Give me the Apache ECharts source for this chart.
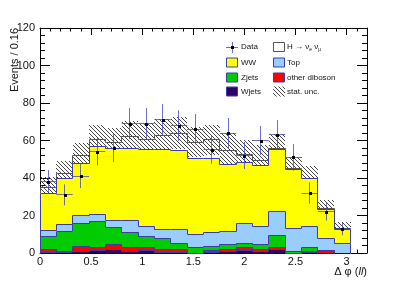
<!DOCTYPE html>
<html><head><meta charset="utf-8">
<script src="https://cdn.jsdelivr.net/npm/echarts@6/dist/echarts.min.js"></script>
<style>html,body{margin:0;padding:0;background:#fff}#c{width:407px;height:282px}</style>
</head><body><div id="c"></div>
<script>
// bin edges (width 0.16)
const binEdges = [0,0.16,0.32,0.48,0.64,0.8,0.96,1.12,1.28,1.44,1.6,1.76,1.92,2.08,2.24,2.4,2.56,2.72,2.88,3.04,3.2];
// background components (per bin, not cumulative)
const wjets   = [0.4,0.5,1.0,1.2,1.8,0.9,1.4,0.5,0.5,0,0.5,0.7,1.4,0.9,1.8,0,0.3,0,0,0];
const otherVV = [1.4,0.5,2.6,1.6,2.6,1.8,1.3,1.6,1.6,0,0.9,1.1,1.8,0.9,1.4,0,0.6,1.4,0,0];
const zjets   = [6.9,10.3,12.4,14.2,9.3,8.0,6.3,5.4,3.2,2.7,2.2,2.6,2.1,2.6,6.4,1.0,2.1,0,0,0];
const topBkg  = [3.1,4.0,4.0,3.8,3.5,6.5,5.2,5.3,7.5,7.1,7.1,7.2,10.2,9.5,12.3,12.3,10.9,6.6,5.3,0];
const ww      = [20.2,24.2,28.0,36.2,38.3,38.3,41.0,42.2,42.1,40.5,39.8,35.5,33.0,32.9,33.1,31.3,25.6,15.2,7.5,0];
const higgs   = [2.7,3.0,4.0,3.5,3.5,6.4,5.6,7.9,9.1,8.9,9.9,7.7,3.9,2.4,1.0,0.7,0.2,0.4,0.2,0];
const statUnc = [5.7,6.7,6.7,7.9,7.7,8.5,8.5,8.5,8.5,8.0,8.0,9.2,8.0,8.6,7.6,5.7,6.6,4.8,3.4,0];
// data
const dataVals = [38,31,41,54,56,69,69,71,68,66,55,64,52,60,63,51,32,22,13];
const dataErrs = [6.2,5.6,6.4,7.3,7.5,8.3,8.3,8.4,8.2,8.1,7.4,8.0,7.2,7.7,7.9,7.1,5.7,4.7,3.6];
// axis ticks
const xTicks = {min:0, max:3.2, interval:0.5};
const yTicks = {min:0, max:120, interval:20};

const FONT = "'Liberation Sans', Arial, Helvetica, sans-serif";
const C = {ww:'#ffff00', top:'#99ccff', zj:'#00cc00', vv:'#ff0000', wj:'#2e0066', line:'#3c3ca8', hline:'#555555', err:'rgba(60,60,200,0.75)'};

// cumulative stacks (bottom -> top)
const comps = [wjets, otherVV, zjets, topBkg, ww, higgs];
const cums = [];
let run = new Array(wjets.length).fill(0);
comps.forEach(c => { run = run.map((v,i)=>v + c[i]); cums.push(run.slice()); });
const [cWj, cVV, cZj, cTop, cWW, cTot] = cums;

// hatch pattern
function makeHatch(size, color) {
  const cv = document.createElement('canvas');
  cv.width = size; cv.height = size;
  const g = cv.getContext('2d');
  g.strokeStyle = color; g.lineWidth = 1;
  g.beginPath();
  g.moveTo(-1,-1); g.lineTo(size+1,size+1);
  g.moveTo(-1,size-1); g.lineTo(1,size+1);
  g.moveTo(size-1,-1); g.lineTo(size+1,1);
  g.stroke();
  return {image: cv, repeat:'repeat'};
}
const hatch = makeHatch(4, '#444444');

const r = v => Math.round(v);
const rh = v => Math.round(v - 0.5) + 0.5;

function stepSeries(name, cum, fill, stroke) {
  return {
    type:'custom', name, xAxisIndex:0, yAxisIndex:0, data:[[0,0]], silent:true, animation:false,
    renderItem(params, api) {
      const n = cum.length;
      const raw = [[binEdges[0],0]];
      for (let i=0;i<n;i++){ raw.push([binEdges[i],cum[i]]); raw.push([binEdges[i+1],cum[i]]); }
      raw.push([binEdges[n],0]);
      const px = raw.map(p => api.coord(p));
      const children = [];
      if (fill) children.push({type:'polygon', shape:{points:px.map(p=>[r(p[0]),r(p[1])])}, style:{fill, stroke:null}});
      let line = raw.slice();
      while (line.length>2 && line[line.length-1][1]===0 && line[line.length-2][1]===0) line.pop();
      const lp = line.map(p => api.coord(p)).map(p=>[rh(p[0]),rh(p[1])]);
      children.push({type:'polyline', shape:{points:lp}, style:{fill:null, stroke, lineWidth:1}});
      return {type:'group', children};
    }
  };
}

function hatchSeries() {
  return {
    type:'custom', name:'stat. unc.', xAxisIndex:0, yAxisIndex:0, data:[[0,0]], silent:true, animation:false,
    renderItem(params, api) {
      const n = cTot.length;
      const up = [], lo = [];
      for (let i=0;i<n;i++){
        if (cTot[i] <= 0) continue;
        up.push([binEdges[i], cTot[i]+statUnc[i]]); up.push([binEdges[i+1], cTot[i]+statUnc[i]]);
      }
      for (let i=n-1;i>=0;i--){
        if (cTot[i] <= 0) continue;
        lo.push([binEdges[i+1], Math.max(0,cTot[i]-statUnc[i])]); lo.push([binEdges[i], Math.max(0,cTot[i]-statUnc[i])]);
      }
      const pts = up.concat(lo).map(p=>api.coord(p)).map(p=>[r(p[0]),r(p[1])]);
      return {type:'polygon', shape:{points:pts}, style:{fill:hatch, stroke:null}};
    }
  };
}

const dataPts = dataVals.map((v,i)=>[(binEdges[i]+binEdges[i+1])/2, v, dataErrs[i], binEdges[i], binEdges[i+1]]);
const dataSeries = {
  type:'custom', name:'Data', xAxisIndex:0, yAxisIndex:0, data:dataPts, silent:true, animation:false, z:10,
  renderItem(params, api) {
    const x = api.value(0), y = api.value(1), e = api.value(2);
    const c = api.coord([x,y]);
    const t = api.coord([x,y+e]), b = api.coord([x,y-e]);
    const L = api.coord([api.value(3),y]), R = api.coord([api.value(4),y]);
    const cx = rh(c[0]), cy = rh(c[1]);
    return {type:'group', children:[
      {type:'line', shape:{x1:cx,y1:t[1],x2:cx,y2:b[1]}, style:{stroke:C.err, lineWidth:1}},
      {type:'line', shape:{x1:L[0],y1:cy,x2:R[0],y2:cy}, style:{stroke:C.err, lineWidth:1}},
      {type:'rect', shape:{x:r(c[0])-1, y:r(c[1])-1, width:3, height:3}, style:{fill:'#000'}}
    ]};
  }
};

const axisCommon = (pos, len, labels) => ({
  axisLine:{show:true, onZero:false, lineStyle:{color:'#000', width:1}},
  axisTick:{show:true, inside:true, length:len, lineStyle:{color:'#000'}},
  minorTick:{show:true, splitNumber:5, length:len/2, lineStyle:{color:'#000'}},
  splitLine:{show:false},
  axisLabel:{show:labels, color:'#111', fontFamily:FONT, fontSize:11, margin: pos==='x'?3:5, showMaxLabel: pos==='x'?false:true}
});

const chart = echarts.init(document.getElementById('c'), null, {renderer:'canvas'});
const legendItems = [];
function legBox(x, y, fill, stroke) {
  legendItems.push({type:'rect', shape:{x:x+0.5, y:y+0.5, width:11, height:9}, style:{fill, stroke, lineWidth:1}});
}
function legText(x, y, text, rich) {
  legendItems.push({type:'text', x, y, style:{text, fill:'#111', font:`8px ${FONT}`, verticalAlign:'middle', align:'left', rich}});
}
const col1 = 226, col2 = 273, tx1 = 241, tx2 = 287;
const rows = [47, 62.5, 77.5, 91.5];
legendItems.push({type:'line', shape:{x1:col1, y1:rows[0]+0.5, x2:col1+12, y2:rows[0]+0.5}, style:{stroke:C.err, lineWidth:1}});
legendItems.push({type:'line', shape:{x1:col1+6.5, y1:rows[0]-5, x2:col1+6.5, y2:rows[0]+6}, style:{stroke:C.err, lineWidth:1}});
legendItems.push({type:'rect', shape:{x:col1+5, y:rows[0]-1, width:3, height:3}, style:{fill:'#000'}});
legText(tx1, rows[0], 'Data');
legBox(col2, rows[0]-5, '#fff', C.hline);
legText(tx2, rows[0], 'H → ν{s|e} ν{s|μ}', {s:{fontSize:5, fontFamily:FONT, fill:'#111', padding:[5,0,0,0]}});
legBox(col1, rows[1]-5, C.ww, C.line); legText(tx1, rows[1], 'WW');
legBox(col2, rows[1]-5, C.top, C.line); legText(tx2, rows[1], 'Top');
legBox(col1, rows[2]-5, C.zj, C.line); legText(tx1, rows[2], 'Zjets');
legBox(col2, rows[2]-5, C.vv, C.line); legText(tx2, rows[2], 'other diboson');
legBox(col1, rows[3]-5, C.wj, C.line); legText(tx1, rows[3], 'Wjets');
legendItems.push({type:'rect', shape:{x:col2, y:rows[3]-5, width:12, height:10}, style:{fill:hatch}});
legText(tx2, rows[3], 'stat. unc.');

chart.setOption({
  animation:false,
  backgroundColor:'#fff',
  grid:{left:40, top:28, width:327, height:225, containLabel:false},
  xAxis:[
    Object.assign({type:'value', position:'bottom', min:xTicks.min, max:xTicks.max, interval:xTicks.interval}, axisCommon('x',7,true)),
    Object.assign({type:'value', position:'top', min:xTicks.min, max:xTicks.max, interval:xTicks.interval}, axisCommon('x',7,false))
  ],
  yAxis:[
    Object.assign({type:'value', position:'left', min:yTicks.min, max:yTicks.max, interval:yTicks.interval}, axisCommon('y',10,true)),
    Object.assign({type:'value', position:'right', min:yTicks.min, max:yTicks.max, interval:yTicks.interval}, axisCommon('y',10,false))
  ],
  series:[
    hatchSeries(),
    stepSeries('H → νeνμ', cTot, null, C.hline),
    stepSeries('WW', cWW, C.ww, C.line),
    stepSeries('Top', cTop, C.top, C.line),
    stepSeries('Zjets', cZj, C.zj, C.line),
    stepSeries('other diboson', cVV, C.vv, C.line),
    stepSeries('Wjets', cWj, C.wj, C.line),
    dataSeries
  ],
  graphic:[
    {type:'text', x:15, y:60, rotation:Math.PI/2, style:{text:'Events / 0.16', fill:'#111', font:`11px ${FONT}`, align:'center', verticalAlign:'middle'}},
    {type:'text', x:367, y:272, style:{text:'Δ φ ({i|ll})', fill:'#111', font:`11px ${FONT}`, align:'right', verticalAlign:'middle',
      rich:{i:{fontStyle:'italic', fontSize:11, fontFamily:FONT, fill:'#111'}}}},
    ...legendItems
  ]
});
</script></body></html>
